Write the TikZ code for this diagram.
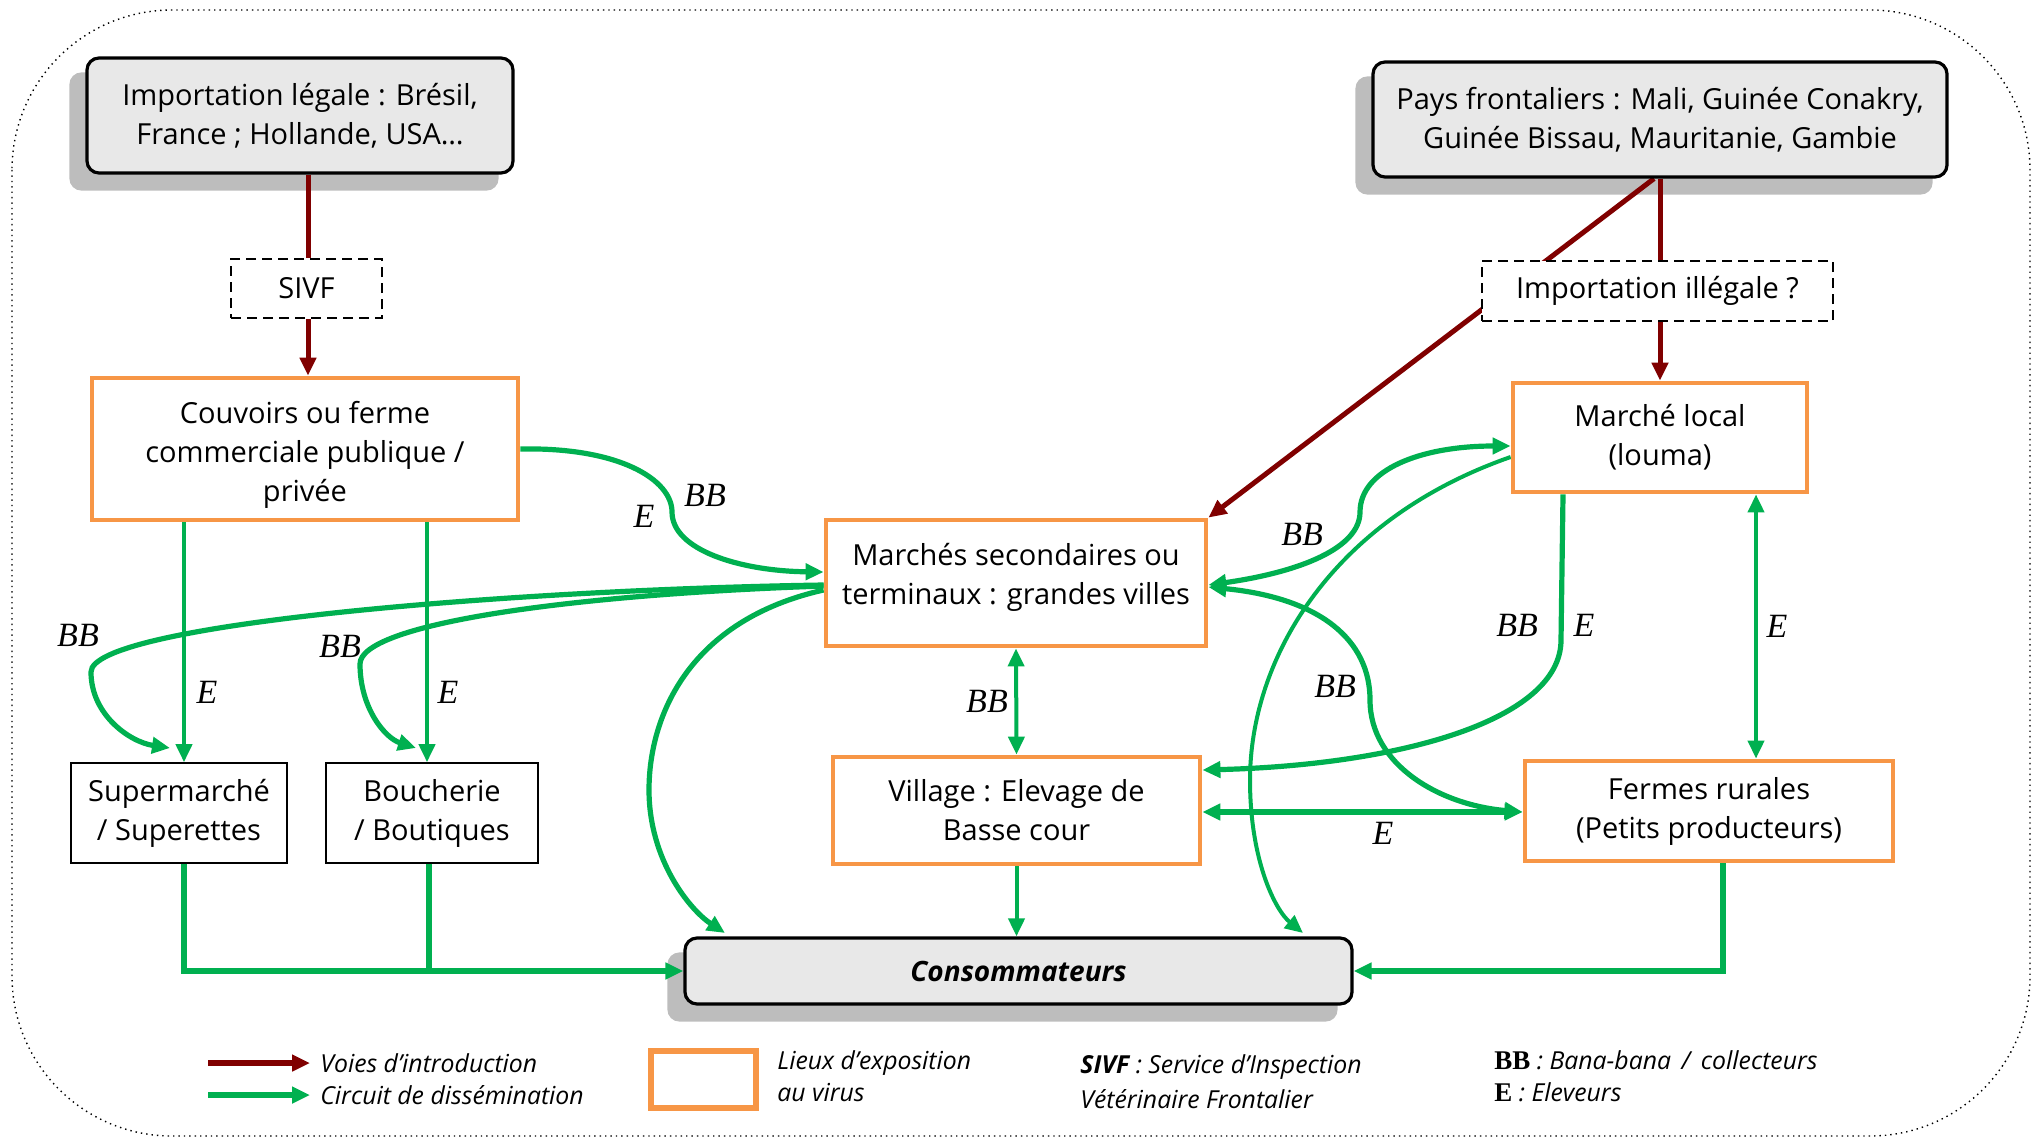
\documentclass[tikz,border=0pt]{standalone}
\usepackage{fontspec}
\setmainfont{Open Sans}
\newfontfamily\lblfont{Liberation Serif}
\usetikzlibrary{arrows.meta}
\definecolor{orng}{HTML}{F79646}
\definecolor{grn}{HTML}{00B050}
\definecolor{dred}{HTML}{800000}
\definecolor{boxgray}{HTML}{E8E8E8}
\definecolor{shadowgray}{HTML}{BDBDBD}
\pgfdeclarelayer{shadowlayer}
\pgfdeclarelayer{linklayer}
\pgfsetlayers{shadowlayer,linklayer,main}
% drop shadow behind a rounded grey box
\newcommand\boxshadow[1]{%
  \fill[shadowgray, rounded corners=6pt]
    ([shift={(-8pt,-8pt)}]#1.south west) rectangle ([shift={(-8pt,-8pt)}]#1.north east);}
\begin{document}
\begin{tikzpicture}[x=0.5pt,y=-0.5pt,
  >={Triangle[length=9pt,width=8pt]},
  txt/.style={align=center, font=\fontsize{14.5}{19.5}\selectfont, inner sep=0pt},
  orangebox/.style={txt, draw=orng, line width=2.4pt, fill=white},
  greybox/.style={txt, draw=black, line width=1.6pt, fill=boxgray, rounded corners=6pt},
  dashbox/.style={txt, draw=black, line width=0.8pt, dash pattern=on 5pt off 3pt, fill=white},
  plainbox/.style={txt, draw=black, line width=0.8pt, fill=white},
  redlink/.style={draw=dred, line width=2.5pt},
  flow/.style={draw=grn, line width=2pt, ->},
  flowthick/.style={flow, line width=2.6pt},
  lbl/.style={font=\lblfont\itshape\fontsize{17}{17}\selectfont, inner sep=0pt},
  legtxt/.style={anchor=west, align=left, inner sep=0pt, font=\itshape\fontsize{12.4}{16}\selectfont},
]
\useasboundingbox (0,0) rectangle (2037,1139);
\draw[dotted, line width=0.7pt, rounded corners=80pt] (12,10) rectangle (2030,1136);

% ---- boxes
\node[greybox, minimum width=213pt, minimum height=57.5pt] (imp) at (300,115.5)
  {Importation légale : Brésil,\\France ; Hollande, USA…};
\node[greybox, minimum width=287pt, minimum height=57.5pt] (pays) at (1660,119.5)
  {Pays frontaliers : Mali, Guinée Conakry,\\Guinée Bissau, Mauritanie, Gambie};
\node[dashbox, minimum width=75.5pt, minimum height=29.5pt] (sivf) at (306.5,288.5) {SIVF};
\node[dashbox, minimum width=175.5pt, minimum height=30pt] (illeg) at (1657.5,291) {Importation illégale ?};
\node[orangebox, minimum width=213pt, minimum height=71pt] (couv) at (305,449)
  {\rule{0pt}{17pt}Couvoirs ou ferme\\commerciale publique /\\privée};
\node[orangebox, minimum width=147pt, minimum height=54.5pt] (mloc) at (1660,437.5)
  {Marché local\\(louma)};
\node[orangebox, minimum width=190pt, minimum height=63pt] (msec) at (1016,583)
  {Marchés secondaires ou\\terminaux : grandes villes\\[-10pt]\mbox{}};
\node[orangebox, minimum width=183.5pt, minimum height=53.5pt] (vill) at (1016.5,810.5)
  {Village : Elevage de\\Basse cour};
\node[orangebox, minimum width=184pt, minimum height=50pt] (ferm) at (1709,811)
  {Fermes rurales\\(Petits producteurs)};
\node[plainbox, minimum width=108pt, minimum height=50pt] (sup) at (179,813)
  {Supermarché\\/ Superettes};
\node[plainbox, minimum width=106pt, minimum height=50pt] (bouc) at (432,813)
  {Boucherie\\/ Boutiques};
\node[greybox, minimum width=333.5pt, minimum height=33pt, font=\bfseries\itshape\fontsize{14}{18}\selectfont] (cons) at (1018.5,971)
  {Consommateurs};

\begin{pgfonlayer}{shadowlayer}
  \boxshadow{imp}
  \boxshadow{pays}
  \boxshadow{cons}
\end{pgfonlayer}

\begin{pgfonlayer}{linklayer}
  % introduction routes
  \draw[redlink] (imp.south -| 308,0) -- (sivf.north -| 308,0);
  \draw[redlink, ->] (sivf.south -| 308,0) -- (couv.north -| 308,0);
  \draw[redlink] (pays.south -| 1660,0) -- (illeg.north -| 1660,0);
  \draw[redlink, ->] (illeg.south -| 1660,0) -- (mloc.north -| 1660,0);
  \draw[redlink, ->] (pays.south -| 1654,0) -- (msec.north east);

  % dissemination from the hatcheries
  \draw[flowthick] (couv.east) .. controls (620,447) and (672,480) .. (672,512)
    .. controls (672,550) and (740,571) .. (msec.west |- 0,572);
  \draw[flow] (couv.south -| 184,0) -- (sup.north -| 184,0);
  \draw[flow] (couv.south -| 427,0) -- (bouc.north -| 427,0);

  % from the secondary markets
  \draw[flowthick] (msec.west |- 0,585) .. controls (500,590) and (91,625) .. (91,672)
    .. controls (91,715) and (130,742) .. (170,748);
  \draw[flowthick] (msec.west |- 0,586) .. controls (560,595) and (360,625) .. (360,664)
    .. controls (360,708) and (385,738) .. (416,748);
  \draw[flowthick] (msec.west |- 0,590) .. controls (690,620) and (649,715) .. (649,790)
    .. controls (649,860) and (690,910) .. (725,933);
  \draw[flow, <->] (msec.south) -- (vill.north);
  \draw[flowthick, <->] (msec.east |- 0,585) .. controls (1300,572) and (1360,548) .. (1360,512)
    .. controls (1360,470) and (1420,446) .. (mloc.west |- 0,446);
  \draw[flowthick, <->] (msec.east |- 0,587) .. controls (1320,598) and (1370,640) .. (1370,700)
    .. controls (1370,765) and (1440,805) .. (ferm.west |- 0,812);

  % from the local market
  \draw[flowthick] (mloc.south -| 1563,0) -- (1561,640)
    .. controls (1561,720) and (1400,765) .. (vill.east |- 0,770);
  \draw[flow] (mloc.west |- 0,457) .. controls (1330,520) and (1250,660) .. (1250,780)
    .. controls (1250,860) and (1275,910) .. (1303,933);
  \draw[flow, <->] (mloc.south -| 1756,0) -- (ferm.north -| 1756,0);

  % village and rural farms
  \draw[flowthick, <->] (vill.east |- 0,812) -- (ferm.west |- 0,812);
  \draw[flow] (vill.south) -- (vill.south |- cons.north);

  % towards the consumers
  \draw[flowthick] (sup.south -| 184,0) |- (cons.west);
  \draw[flowthick, -] (bouc.south -| 429,0) -- (cons.west -| 429,0);
  \draw[flowthick] (ferm.south -| 1723,0) |- (cons.east);
\end{pgfonlayer}

% ---- actor labels
\node[lbl] (l1) at (644,516) {E};
\node[lbl] (l2) at (705,495) {BB};
\node[lbl] (l3) at (78,635) {BB};
\node[lbl] (l4) at (340,646) {BB};
\node[lbl] (l5) at (207,692) {E};
\node[lbl] (l6) at (448,692) {E};
\node[lbl] (l7) at (987,701) {BB};
\node[lbl] (l8) at (1302,534) {BB};
\node[lbl] (l9) at (1335,686) {BB};
\node[lbl] (l10) at (1517,625) {BB};
\node[lbl] (l11) at (1584,625) {E};
\node[lbl] (l12) at (1777,626) {E};
\node[lbl] (l13) at (1383,833) {E};

% ---- legend
\coordinate (r0) at (208,1063);
\coordinate (r1) at (310,1063);
\coordinate (g0) at (208,1095);
\coordinate (g1) at (310,1095);
\draw[draw=dred, line width=3pt, ->] (r0) -- (r1);
\draw[draw=grn, line width=3pt, ->] (g0) -- (g1);
\node[legtxt] (lv) at (320,1063) {Voies d’introduction};
\node[legtxt] (lc) at (320,1095) {Circuit de dissémination};
\node[draw=orng, line width=2.6pt, minimum width=52.5pt, minimum height=28.5pt, inner sep=0pt] (lbox) at (703.5,1079.5) {};
\node[legtxt] (ll) at (777,1076) {Lieux d’exposition\\au virus};
\node[legtxt, font=\itshape\fontsize{12.4}{17.5}\selectfont] (ls) at (1080,1082)
  {{\bfseries SIVF} : Service d’Inspection\\Vétérinaire Frontalier};
\node[legtxt] (lb) at (1494,1076)
  {{\lblfont\upshape\bfseries\fontsize{13.5}{16}\selectfont BB} : Bana-bana \,/\, collecteurs\\{\lblfont\upshape\bfseries\fontsize{13.5}{16}\selectfont E} : Eleveurs};
\end{tikzpicture}
\end{document}
